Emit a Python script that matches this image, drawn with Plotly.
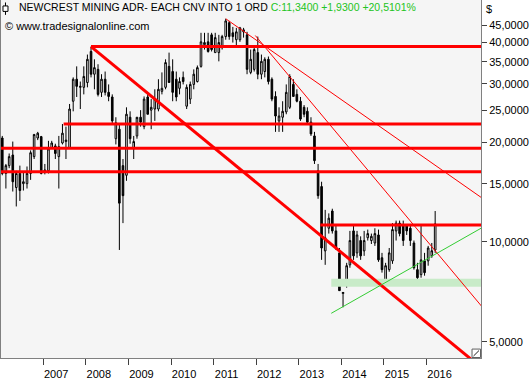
import plotly.graph_objects as go
import pandas as pd

# ---- monthly OHLC (USD), Jan 2006 .. Mar 2016 ----
open_ = [20.6, 16.1, 17.0, 18.3, 14.6, 16.1, 15.0, 15.0, 16.1, 18.1, 20.6, 20.8,
         16.3, 16.4, 19.2, 19.5, 18.1, 19.9, 20.1, 19.2, 26.6, 31.0, 29.3, 29.3,
         30.3, 37.6, 32.1, 33.2, 28.3, 31.0, 28.3, 27.4, 20.5, 21.9, 17.0, 15.9,
         23.8, 19.1, 20.9, 23.8, 22.3, 27.4, 25.0, 25.2, 25.2, 28.5, 29.3, 33.9,
         32.7, 31.0, 29.1, 31.4, 25.7, 27.0, 29.9, 30.5, 33.9, 39.4, 40.2, 42.2,
         37.3, 37.3, 38.6, 41.7, 45.9, 42.8, 40.8, 40.8, 43.1, 42.2, 32.5, 33.2,
         37.3, 32.1, 32.7, 35.6, 31.0, 27.5, 23.2, 23.8, 24.7, 25.5, 29.9, 27.9,
         26.6, 25.5, 24.8, 23.0, 20.9, 16.4, 14.7, 9.40, 11.0, 12.4, 10.8, 9.27,
         6.99, 7.43, 8.53, 10.8, 9.27, 10.1, 9.40, 10.3, 10.1, 9.93, 10.5, 8.96,
         7.64, 8.25, 8.77, 10.8, 11.4, 11.2, 11.2, 11.0, 9.93, 8.25, 7.97, 8.77,
         8.77, 9.08, 9.46]
high = [20.9, 17.2, 18.5, 20.1, 16.4, 17.0, 16.3, 16.9, 18.9, 21.2, 21.5, 20.9,
        17.2, 20.2, 20.2, 19.8, 20.9, 22.7, 22.3, 26.1, 31.4, 33.9, 30.5, 33.9,
        36.8, 38.9, 35.6, 34.4, 32.1, 32.7, 29.9, 27.9, 23.8, 22.7, 17.8, 25.5,
        24.8, 20.9, 23.5, 25.0, 27.5, 28.3, 27.0, 28.9, 31.0, 32.5, 35.6, 37.3,
        35.6, 32.7, 31.4, 32.7, 29.9, 30.5, 33.2, 34.1, 42.8, 42.8, 42.8, 42.8,
        42.8, 42.2, 42.2, 47.2, 46.5, 44.6, 44.3, 44.6, 44.3, 43.1, 38.1, 38.9,
        41.7, 36.8, 36.1, 36.3, 31.4, 28.5, 25.5, 26.6, 29.9, 32.1, 31.0, 28.9,
        27.4, 25.9, 25.5, 23.8, 21.5, 17.2, 15.2, 12.5, 12.2, 12.6, 11.2, 9.59,
        7.04, 8.65, 10.8, 11.2, 10.8, 10.4, 10.8, 10.9, 10.6, 11.0, 10.9, 9.27,
        8.65, 9.59, 11.4, 11.6, 11.6, 11.6, 11.3, 11.3, 10.1, 8.65, 11.2, 9.27,
        9.73, 9.93, 12.4]
low = [15.9, 14.5, 16.7, 14.2, 12.8, 13.3, 14.3, 14.5, 15.4, 17.8, 20.3, 16.0,
       16.0, 16.1, 19.1, 17.8, 14.5, 19.7, 17.8, 19.1, 24.8, 27.4, 25.2, 27.9,
       29.3, 31.4, 28.9, 27.5, 27.4, 27.7, 26.6, 22.7, 19.7, 9.46, 11.4, 15.3,
       19.8, 17.8, 20.5, 22.3, 21.9, 24.3, 21.9, 23.2, 24.8, 27.9, 28.9, 30.3,
       26.6, 26.6, 27.9, 29.9, 25.2, 26.1, 28.9, 30.3, 33.6, 38.1, 37.3, 37.6,
       37.3, 35.1, 38.1, 40.8, 40.8, 40.0, 38.9, 40.2, 41.4, 32.1, 32.1, 32.7,
       31.0, 31.0, 31.4, 29.9, 26.6, 21.5, 21.5, 21.5, 24.3, 25.2, 27.5, 26.4,
       23.2, 23.8, 22.7, 20.9, 17.2, 13.5, 8.83, 8.53, 10.6, 10.6, 9.46, 7.13,
       6.35, 7.28, 8.36, 8.83, 8.96, 8.83, 9.08, 10.1, 9.86, 9.73, 8.71, 8.08,
       7.38, 8.13, 8.59, 10.1, 10.4, 9.73, 10.5, 9.73, 8.25, 7.38, 7.80, 7.91,
       8.48, 8.96, 9.27]
close = [16.1, 17.0, 18.1, 15.2, 16.1, 14.3, 15.2, 16.1, 18.6, 21.1, 21.3, 16.1,
         16.5, 19.1, 19.9, 18.5, 19.4, 21.3, 20.3, 25.2, 31.0, 29.5, 29.5, 31.6,
         35.6, 32.1, 33.6, 27.9, 31.0, 28.3, 27.5, 23.2, 22.9, 13.1, 13.8, 24.3,
         20.5, 20.1, 23.8, 23.0, 27.0, 24.3, 25.5, 27.0, 28.9, 29.1, 34.8, 30.3,
         28.3, 27.4, 30.5, 30.5, 29.3, 29.9, 32.1, 33.6, 40.2, 40.0, 37.6, 38.1,
         41.4, 40.0, 41.7, 46.5, 41.7, 41.7, 43.1, 44.3, 43.7, 33.2, 35.6, 38.1,
         32.1, 35.1, 35.6, 30.5, 27.0, 24.0, 24.0, 24.8, 28.3, 31.6, 27.5, 26.6,
         23.5, 24.3, 23.0, 21.2, 17.6, 13.8, 9.59, 10.3, 11.8, 10.8, 9.59, 7.13,
         7.04, 8.48, 10.1, 9.08, 10.5, 9.08, 10.1, 10.6, 10.4, 10.6, 8.83, 8.25,
         8.48, 9.27, 10.9, 11.4, 10.6, 10.1, 10.8, 10.1, 8.36, 7.80, 8.83, 8.08,
         9.59, 9.41, 11.34]
dates = pd.date_range("2006-01-01", periods=len(close), freq="MS") + pd.Timedelta(days=14)

# ---- horizontal support / resistance levels ----
level_prices = [38.9, 22.7, 19.2, 16.3, 11.25]
level_starts = ["2008-02-15", "2007-06-25", "2006-01-01", "2006-01-01", "2013-07-04"]
level_end = "2017-05-01"

# ---- trend lines ----
trend_dates = [("2008-02-15", "2017-06-29"), ("2011-04-15", "2017-04-12"),
               ("2011-12-25", "2017-06-29")]
trend_prices = [(38.9, 3.97), (47.2, 13.64), (42.0, 5.96)]
trend_widths = [3, 1, 1]
green_dates = ["2013-10-06", "2017-04-12"]
green_prices = [6.09, 11.0]
band_dates = ["2013-10-06", "2017-05-01"]
band_prices = [7.33, 7.75]

x_tick_years = [2007, 2008, 2009, 2010, 2011, 2012, 2013, 2014, 2015, 2016]
y_ticks = [5, 10, 15, 20, 25, 30, 35, 40, 45]
y_ticktext = ["5,0000", "10,0000", "15,0000", "20,0000", "25,0000",
              "30,0000", "35,0000", "40,0000", "45,0000"]

FONT = "Liberation Sans, Arial, sans-serif"
W, H = 481.0, 361.0  # plot area in px

fig = go.Figure()

fig.add_trace(go.Scatter(
    x=[band_dates[0], band_dates[1], band_dates[1], band_dates[0], band_dates[0]],
    y=[band_prices[0], band_prices[0], band_prices[1], band_prices[1], band_prices[0]],
    fill="toself", fillcolor="#c8ebc8", line=dict(width=0), mode="lines",
    hoverinfo="skip", showlegend=False))

fig.add_trace(go.Candlestick(
    x=dates, open=open_, high=high, low=low, close=close,
    increasing=dict(line=dict(color="black", width=1), fillcolor="white"),
    decreasing=dict(line=dict(color="black", width=1), fillcolor="black"),
    whiskerwidth=0, showlegend=False))

for p, s in zip(level_prices, level_starts):
    fig.add_trace(go.Scatter(x=[s, level_end], y=[p, p], mode="lines",
                             line=dict(color="#ff0000", width=3),
                             hoverinfo="skip", showlegend=False))

for (d0, d1), (p0, p1), w in zip(trend_dates, trend_prices, trend_widths):
    fig.add_trace(go.Scatter(x=[d0, d1], y=[p0, p1], mode="lines",
                             line=dict(color="#ff0000", width=w),
                             hoverinfo="skip", showlegend=False))

fig.add_trace(go.Scatter(x=green_dates, y=green_prices, mode="lines",
                         line=dict(color="#33cc33", width=1),
                         hoverinfo="skip", showlegend=False))


def px(x):
    return x / W


def py(y):
    return 1 - y / H


fig.add_annotation(
    x=px(16), y=py(7.5), xref="paper", yref="paper", xanchor="left", yanchor="middle",
    showarrow=False, font=dict(family=FONT, size=10.5, color="black"),
    text='NEWCREST MINING ADR- EACH CNV INTO 1 ORD '
         '<span style="color:#22c422">C:11,3400 +1,9300 +20,5101%</span>')
fig.add_annotation(
    x=px(2), y=py(26), xref="paper", yref="paper", xanchor="left", yanchor="middle",
    showarrow=False, font=dict(family=FONT, size=11, color="black"),
    text="© www.tradesignalonline.com")
fig.add_annotation(
    x=px(484), y=py(9), xref="paper", yref="paper", xanchor="left", yanchor="middle",
    showarrow=False, font=dict(family=FONT, size=11, color="black"), text="$")

fig.add_shape(type="line", xref="paper", yref="paper", x0=px(4.5), x1=px(4.5),
              y0=py(2.5), y1=py(15), line=dict(color="black", width=1))
fig.add_shape(type="rect", xref="paper", yref="paper", x0=px(2), x1=px(7),
              y0=py(11.5), y1=py(6), line=dict(color="black", width=1), fillcolor="white")
fig.add_shape(type="rect", xref="paper", yref="paper", x0=px(472), x1=px(480.5),
              y0=py(360.5), y1=py(352), line=dict(color="#606060", width=1), fillcolor="white")
fig.add_shape(type="line", xref="paper", yref="paper", x0=px(473.5), x1=px(479),
              y0=py(359), y1=py(353.5), line=dict(color="#202020", width=1))

fig.update_layout(
    width=530, height=380,
    margin=dict(l=0, r=49, t=0, b=19),
    paper_bgcolor="white", plot_bgcolor="#f5f5f5",
    font=dict(family=FONT, size=11, color="black"),
    showlegend=False,
    xaxis=dict(
        type="date", range=["2006-01-04", "2017-04-12"],
        rangeslider=dict(visible=False),
        tickmode="array",
        tickvals=[f"{y}-01-01" for y in x_tick_years],
        ticktext=[str(y) for y in x_tick_years],
        ticks="outside", ticklen=6, tickcolor="#404040", ticklabelshift=13,
        showgrid=False, zeroline=False,
        showline=True, linecolor="#808080", linewidth=1,
        tickfont=dict(family=FONT, size=11, color="black")),
    yaxis=dict(
        type="log", range=[1 - 117 / 334, 1 + 244 / 334], side="right",
        tickvals=y_ticks, ticktext=y_ticktext,
        ticks="outside", ticklen=5, tickcolor="#404040",
        showgrid=False, zeroline=False,
        showline=True, mirror=True, linecolor="#808080", linewidth=1,
        tickfont=dict(family=FONT, size=11, color="black")),
)

fig.write_html("out.html")
